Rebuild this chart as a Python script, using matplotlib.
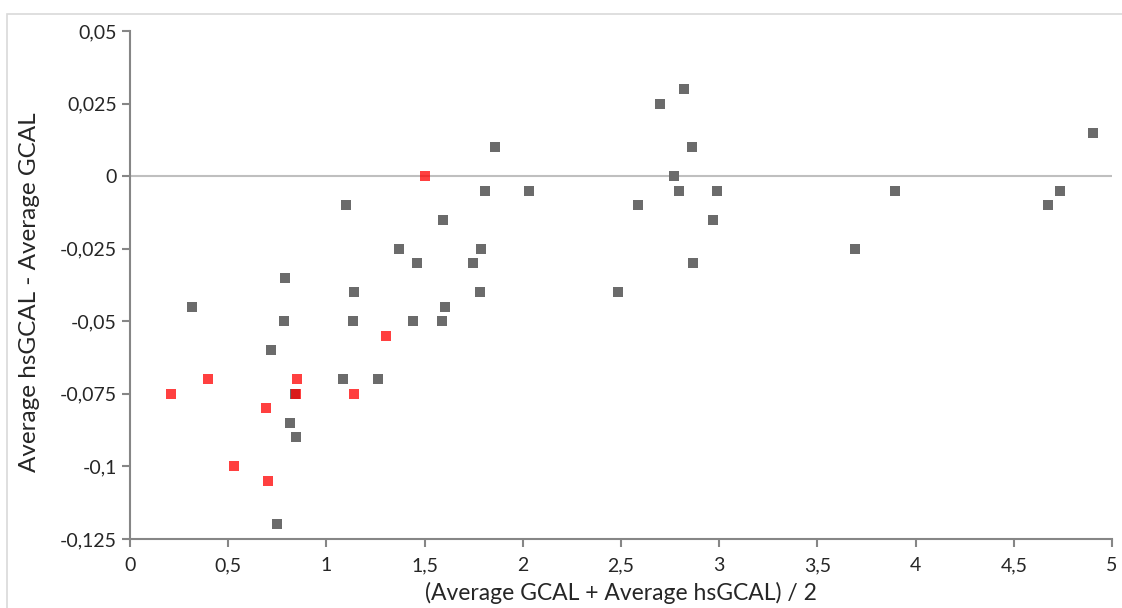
import matplotlib.pyplot as plt
from matplotlib.ticker import FuncFormatter, MultipleLocator
from matplotlib.patches import Rectangle

# Bland-Altman style data: mean of methods vs. difference
gray_x = [0.316, 0.789, 0.784, 0.718, 0.815, 0.845, 0.84, 0.748, 1.10, 1.085,
          1.14, 1.135, 1.263, 1.37, 1.46, 1.44, 1.594, 1.604, 1.589, 1.746,
          1.787, 1.78, 1.807, 1.858, 2.03, 2.485, 2.587, 2.70, 2.82, 2.77,
          2.795, 2.86, 2.867, 2.97, 2.99, 3.69, 3.895, 4.674, 4.735, 4.903]
gray_y = [-0.045, -0.035, -0.05, -0.06, -0.085, -0.09, -0.075, -0.12, -0.01, -0.07,
          -0.04, -0.05, -0.07, -0.025, -0.03, -0.05, -0.015, -0.045, -0.05, -0.03,
          -0.025, -0.04, -0.005, 0.01, -0.005, -0.04, -0.01, 0.025, 0.03, 0.0,
          -0.005, 0.01, -0.03, -0.015, -0.005, -0.025, -0.005, -0.01, -0.005, 0.015]

red_x = [0.209, 0.397, 0.53, 0.692, 0.703, 0.85, 0.845, 1.14, 1.303, 1.502]
red_y = [-0.075, -0.07, -0.1, -0.08, -0.105, -0.07, -0.075, -0.075, -0.055, 0.0]

plt.rcParams['font.family'] = ['Lato', 'DejaVu Sans']

fig = plt.figure(figsize=(11.22, 6.08), dpi=100)
ax = fig.add_axes([130 / 1122, 69 / 608, 982 / 1122, 508 / 608])

# light frame around the chart area
fig.patches.append(Rectangle((7 / 1122, -0.05), 1.2, 1 - 14 / 608 + 0.05,
                             transform=fig.transFigure, fill=False,
                             edgecolor='#D9D9D9', linewidth=1.2))

ax.axhline(0, color='#BFBFBF', linewidth=1.5, zorder=1)

ax.scatter(gray_x, gray_y, marker='s', s=62, color='#6b6b6b', linewidths=0, zorder=3)
ax.scatter(red_x, red_y, marker='s', s=62, color='#FF0000', alpha=0.75, linewidths=0, zorder=4)

ax.set_xlim(0, 5)
ax.set_ylim(-0.125, 0.05)
ax.xaxis.set_major_locator(MultipleLocator(0.5))
ax.yaxis.set_major_locator(MultipleLocator(0.025))

def comma(v, pos):
    s = f"{v:.3f}".rstrip('0').rstrip('.')
    if s in ('-0', ''):
        s = '0'
    return s.replace('.', ',')

ax.xaxis.set_major_formatter(FuncFormatter(comma))
ax.yaxis.set_major_formatter(FuncFormatter(comma))

for side in ['top', 'right']:
    ax.spines[side].set_visible(False)
for side in ['left', 'bottom']:
    ax.spines[side].set_color('#868686')
    ax.spines[side].set_linewidth(1.5)

ax.tick_params(axis='both', colors='#868686', length=6, width=1.5, labelsize=14,
               labelcolor='#262626')
ax.tick_params(axis='x', pad=7)

ax.set_xlabel('(Average GCAL + Average hsGCAL) / 2', fontsize=16.5, color='#262626')
ax.set_ylabel('Average hsGCAL - Average GCAL', fontsize=17.5, color='#262626')
ax.xaxis.label.set_va('center')
ax.yaxis.label.set_va('center')
ax.xaxis.set_label_coords(0.5, -0.106)
ax.yaxis.set_label_coords(-0.102, 0.486)

fig.savefig('out.png', dpi=100)
